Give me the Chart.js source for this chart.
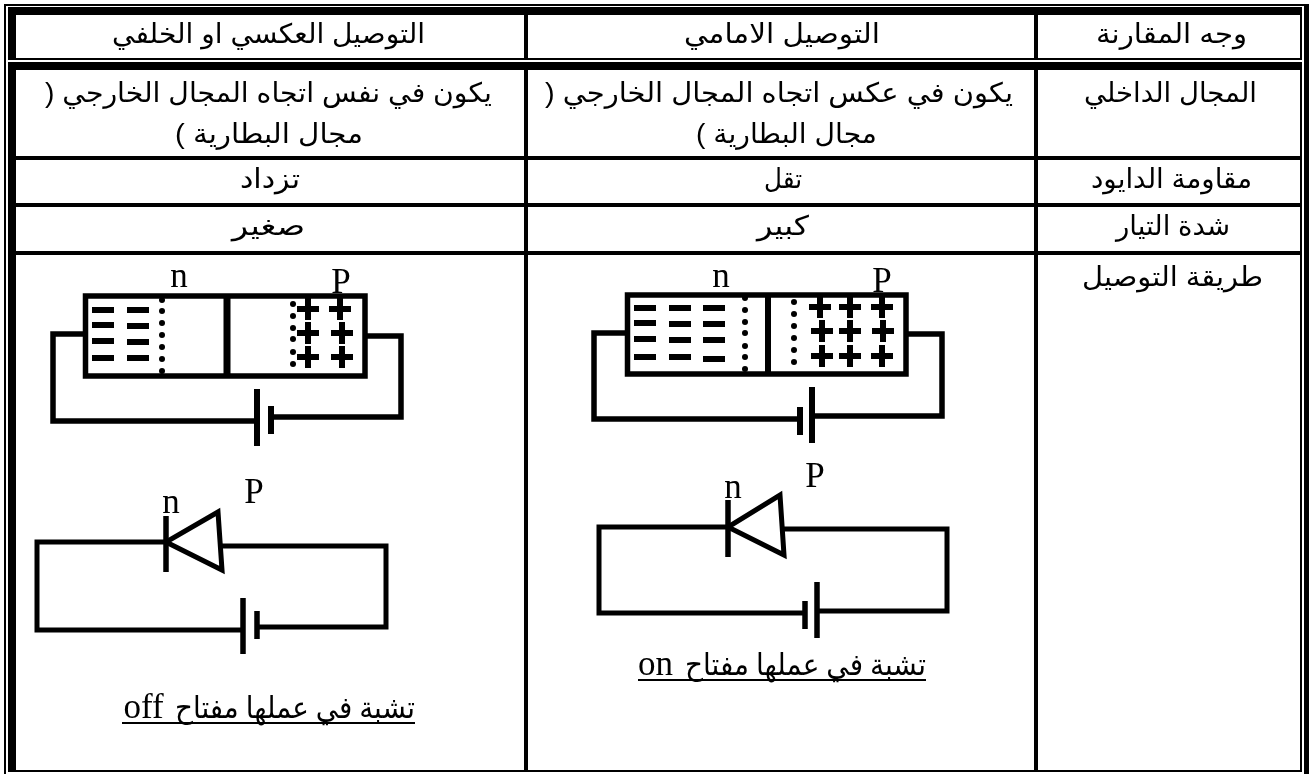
<!DOCTYPE html>
<html lang="ar">
<head>
<meta charset="utf-8">
<title>مقارنة التوصيل الامامي والعكسي</title>
<script src="https://cdn.jsdelivr.net/npm/chart.js@4"></script>
<style>
  html, body { margin: 0; padding: 0; background: #fff; }
  canvas { display: block; }
</style>
</head>
<body>
<canvas id="comparisonChart" width="1309" height="774"></canvas>
<script>
// table text, one entry per line of text
const cellTexts = [
  "التوصيل العكسي او الخلفي", "التوصيل الامامي", "وجه المقارنة",
  "يكون في نفس اتجاه المجال الخارجي (", "مجال البطارية )",
  "يكون في عكس اتجاه المجال الخارجي (", "مجال البطارية )", "المجال الداخلي",
  "تزداد", "تقل", "مقاومة الدايود",
  "صغير", "كبير", "شدة التيار",
  "طريقة التوصيل"
];
// [left, right, baseline] of each line above
const cellSpans = [
  [112, 425, 43], [684, 880, 43], [1096, 1247, 43],
  [45, 492, 102], [175, 363, 143],
  [545, 1013, 102], [696, 877, 143], [1084, 1257, 102],
  [240, 300, 188], [764, 802, 188], [1091, 1252, 188],
  [232, 305, 235], [757, 809, 235], [1116, 1230, 235],
  [1082, 1263, 286]
];
const captionTexts = ["تشبة في عملها مفتاح", "تشبة في عملها مفتاح"];
const captionSpans = [[175, 415, 718], [685, 926, 675]];
const letterTexts = ["n", "P", "n", "P", "n", "P", "n", "P", "off", "on"];
const letterCentres = [[179, 287], [341, 293], [721, 287], [882, 292], [171, 513], [254, 503], [733, 498], [815, 487],
  [143.5, 718], [655.5, 675]];

// table rules: thick frame, thin frame, inner lines
const thickRules = [
  [[12, 7], [12, 60]], [[12, 62], [12, 772]],
  [[8, 11], [1302, 11]], [[8, 66], [1302, 66]]
];
const outerRightRule = [[1306.5, 4], [1306.5, 774]];
const thinRules = [
  [[5, 4], [5, 774]], [[4, 5], [1309, 5]],
  [[8, 59], [1302, 59]], [[1301, 7], [1301, 60]], [[1301, 62], [1301, 772]],
  [[8, 771], [1302, 771]]
];
const innerRules = [
  [[526, 7], [526, 60]], [[526, 62], [526, 770]],
  [[1036, 7], [1036, 60]], [[1036, 62], [1036, 770]],
  [[16, 158], [1300, 158]], [[16, 205], [1300, 205]], [[16, 253], [1300, 253]]
];

// reverse biased junction
const revBox = [[200, 296], [365, 296], [365, 376], [85.5, 376], [85.5, 296], [200, 296]];
const revDivider = [[227, 294], [227, 378]];
const revWires = [
  [[83, 334], [53, 334], [53, 421], [257, 421]],
  [[271, 417], [401, 417], [401, 336], [367, 336]]
];
const revPlates = [[[257, 389], [257, 446]], [[271, 406], [271, 434]]];
const revDots = [[162, 300], [162, 311], [162, 323], [162, 335], [162, 347], [162, 359], [162, 371],
  [293, 304], [293, 316], [293, 328], [293, 339], [293, 352], [293, 364]];
const revMinus = [[103, 310], [103, 325], [103, 341], [103, 358], [138, 310], [138, 326], [138, 342], [138, 358]];
const revPlus = [[308, 309], [340, 309], [308, 333], [342, 333], [308, 357], [342, 357]];

// forward biased junction
const fwdBox = [[700, 295], [906, 295], [906, 374], [627.5, 374], [627.5, 295], [700, 295]];
const fwdDivider = [[768, 293], [768, 376]];
const fwdWires = [
  [[625, 333], [594, 333], [594, 419], [800, 419]],
  [[812, 416], [942, 416], [942, 334], [908, 334]]
];
const fwdPlates = [[[812, 387], [812, 443]], [[800, 407], [800, 435]]];
const fwdDots = [[745, 298], [745, 310], [745, 322], [745, 333], [745, 346], [745, 357], [745, 369],
  [794, 302], [794, 314], [794, 326], [794, 338], [794, 350], [794, 362]];
const fwdMinus = [[645, 308], [645, 323], [645, 339], [645, 357], [680, 308], [680, 324], [680, 340], [680, 357],
  [714, 308], [714, 324], [714, 340], [714, 359]];
const fwdPlus = [[820, 307], [850, 307], [882, 307], [822, 331], [850, 331], [883, 331], [822, 356], [850, 356], [882, 356]];

// diode symbols with their batteries
const revDiodeWires = [
  [[166, 542], [37, 542], [37, 630], [243, 630]],
  [[257, 627], [386, 627], [386, 546], [222, 546]]
];
const revDiodeBars = [[[166, 516], [166, 572]], [[243, 598], [243, 654]], [[257, 611], [257, 639]]];
const revTriangle = [[220, 541], [222, 570], [166, 542], [218, 512], [220, 541]];
const fwdDiodeWires = [
  [[727, 527], [599, 527], [599, 613], [805, 613]],
  [[817, 611], [947, 611], [947, 529], [783, 529]]
];
const fwdDiodeBars = [[[728, 500], [728, 557]], [[817, 582], [817, 638]], [[805, 601], [805, 629]]];
const fwdTriangle = [[782, 525], [784, 555], [728, 527], [780, 495], [782, 525]];
const captionRules = [[[122, 723], [415, 723]], [[638, 680], [926, 680]]];

const toPoints = pts => pts.map(([x, y]) => ({ x, y }));

function lineSet(pts, width) {
  return {
    data: toPoints(pts),
    showLine: true,
    borderColor: "#000",
    borderWidth: width,
    borderJoinStyle: "miter",
    borderCapStyle: "butt",
    pointRadius: 0,
    tension: 0
  };
}

function markSet(pts, style, radius, width) {
  return {
    data: toPoints(pts),
    showLine: false,
    pointStyle: style,
    pointRadius: radius,
    pointBorderWidth: width,
    pointBorderColor: "#000",
    pointBackgroundColor: "#000"
  };
}

const datasets = [
  ...thickRules.map(r => lineSet(r, 8)),
  lineSet(outerRightRule, 5),
  ...thinRules.map(r => lineSet(r, 2)),
  ...innerRules.map(r => lineSet(r, 4)),
  lineSet(revBox, 5.5), lineSet(revDivider, 7),
  ...revWires.map(r => lineSet(r, 5.5)), ...revPlates.map(r => lineSet(r, 6)),
  markSet(revDots, "circle", 3, 0), markSet(revMinus, "line", 11, 6), markSet(revPlus, "cross", 11, 6),
  lineSet(fwdBox, 5.5), lineSet(fwdDivider, 6),
  ...fwdWires.map(r => lineSet(r, 5.5)), ...fwdPlates.map(r => lineSet(r, 6)),
  markSet(fwdDots, "circle", 3, 0), markSet(fwdMinus, "line", 11, 6), markSet(fwdPlus, "cross", 11, 6),
  ...revDiodeWires.map(r => lineSet(r, 5)), ...revDiodeBars.map(r => lineSet(r, 5.5)), lineSet(revTriangle, 5),
  ...fwdDiodeWires.map(r => lineSet(r, 5)), ...fwdDiodeBars.map(r => lineSet(r, 5.5)), lineSet(fwdTriangle, 5),
  ...captionRules.map(r => lineSet(r, 2))
];

// squeeze each line into the width it has in the table
function drawFitted(ctx, text, left, right, baseline, font) {
  ctx.save();
  ctx.font = font;
  ctx.direction = "rtl";
  ctx.textAlign = "left";
  ctx.textBaseline = "alphabetic";
  const factor = (right - left) / ctx.measureText(text).width;
  ctx.translate(left, baseline);
  ctx.scale(factor, 1);
  ctx.fillStyle = "#000";
  ctx.fillText(text, 0, 0);
  ctx.restore();
}

const tableText = {
  id: "tableText",
  afterDatasetsDraw(chart) {
    const { ctx, scales: { x, y } } = chart;
    cellTexts.forEach((text, i) => {
      const [l, r, b] = cellSpans[i];
      drawFitted(ctx, text, x.getPixelForValue(l), x.getPixelForValue(r), y.getPixelForValue(b), '27px "Liberation Sans", "DejaVu Sans", sans-serif');
    });
    captionTexts.forEach((text, i) => {
      const [l, r, b] = captionSpans[i];
      drawFitted(ctx, text, x.getPixelForValue(l), x.getPixelForValue(r), y.getPixelForValue(b), '30px "Liberation Serif", "DejaVu Sans", serif');
    });
    ctx.save();
    ctx.font = '35px "Liberation Serif", serif';
    ctx.textAlign = "center";
    ctx.textBaseline = "alphabetic";
    ctx.fillStyle = "#000";
    letterTexts.forEach((text, i) => {
      const [cx, b] = letterCentres[i];
      ctx.fillText(text, x.getPixelForValue(cx), y.getPixelForValue(b));
    });
    ctx.restore();
  }
};

const ctx = document.getElementById("comparisonChart").getContext("2d");
new Chart(ctx, {
  type: "scatter",
  data: { datasets },
  plugins: [tableText],
  options: {
    responsive: false,
    animation: false,
    layout: { padding: 0, autoPadding: false },
    plugins: { legend: { display: false }, tooltip: { enabled: false } },
    scales: {
      x: { type: "linear", display: false, min: 0, max: 1309 },
      y: { type: "linear", display: false, min: 0, max: 774, reverse: true }
    }
  }
});
</script>
</body>
</html>
